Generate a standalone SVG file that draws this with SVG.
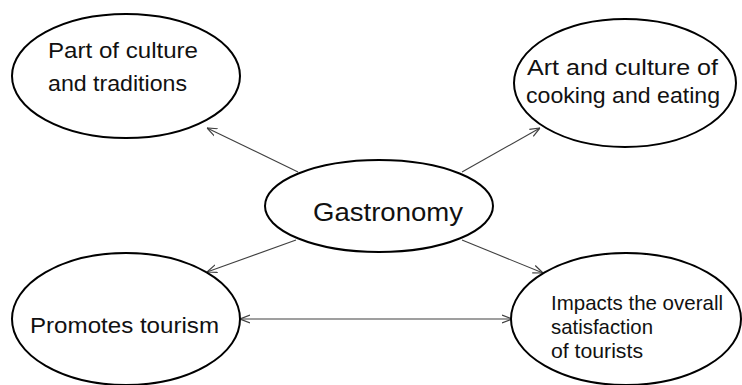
<svg xmlns="http://www.w3.org/2000/svg" width="742" height="385" viewBox="0 0 742 385">
<defs>
<style>
.node ellipse{fill:#fff;stroke:#000;stroke-width:2}
.node text{font-family:"Liberation Sans",Arial,sans-serif;font-size:22px;fill:#111}
.conn line{stroke:#404040;stroke-width:1.1;fill:none}
</style>
<marker id="ah" viewBox="0 0 10 10" refX="10" refY="5" markerWidth="10" markerHeight="10" markerUnits="userSpaceOnUse" orient="auto-start-reverse">
<path d="M0,1 L10,5 L0,9" fill="none" stroke="#404040" stroke-width="1.2"/>
</marker>
</defs>
<rect width="742" height="385" fill="#fff"/>
<g id="connectors" class="conn">
<line x1="298" y1="172" x2="207" y2="128" marker-end="url(#ah)"/>
<line x1="462" y1="172" x2="540" y2="128" marker-end="url(#ah)"/>
<line x1="296" y1="240" x2="207" y2="272" marker-end="url(#ah)"/>
<line x1="462" y1="240" x2="543" y2="273" marker-end="url(#ah)"/>
<line x1="240" y1="319" x2="512" y2="319" marker-start="url(#ah)" marker-end="url(#ah)"/>
</g>
<g id="node-culture" class="node">
<ellipse cx="126" cy="76" rx="114" ry="62"/>
<text x="48" y="58" textLength="150" lengthAdjust="spacingAndGlyphs">Part of culture</text>
<text x="48" y="91" textLength="139" lengthAdjust="spacingAndGlyphs">and traditions</text>
</g>
<g id="node-art" class="node">
<ellipse cx="625" cy="83" rx="111" ry="64"/>
<text x="527" y="75" textLength="191" lengthAdjust="spacingAndGlyphs">Art and culture of</text>
<text x="526" y="103" textLength="194" lengthAdjust="spacingAndGlyphs">cooking and eating</text>
</g>
<g id="node-gastronomy" class="node">
<ellipse cx="379" cy="206" rx="114" ry="46"/>
<text x="313" y="221" style="font-size:26px" textLength="150" lengthAdjust="spacingAndGlyphs">Gastronomy</text>
</g>
<g id="node-tourism" class="node">
<ellipse cx="126" cy="319" rx="114" ry="66"/>
<text x="30" y="333" textLength="189" lengthAdjust="spacingAndGlyphs">Promotes tourism</text>
</g>
<g id="node-satisfaction" class="node">
<ellipse cx="626" cy="319" rx="115" ry="66"/>
<text x="551" y="310" style="font-size:21px" textLength="172" lengthAdjust="spacingAndGlyphs">Impacts the overall</text>
<text x="551" y="334" style="font-size:21px" textLength="102" lengthAdjust="spacingAndGlyphs">satisfaction</text>
<text x="551" y="358" style="font-size:21px" textLength="92" lengthAdjust="spacingAndGlyphs">of tourists</text>
</g>
</svg>
